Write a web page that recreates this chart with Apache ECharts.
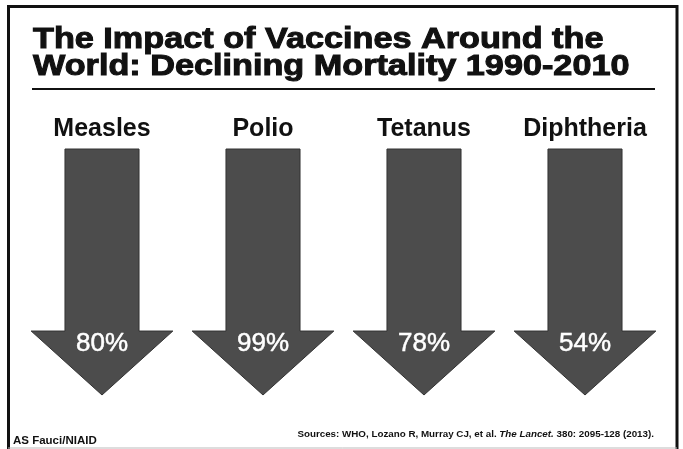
<!DOCTYPE html>
<html>
<head>
<meta charset="utf-8">
<script src="https://cdn.jsdelivr.net/npm/echarts@6/dist/echarts.min.js"></script>
<style>
  html, body { margin: 0; padding: 0; background: #fff; }
  #chart { width: 683px; height: 449px; }
</style>
</head>
<body>
<div id="chart"></div>
<script>
// Vaccine-preventable diseases and their mortality decline, 1990-2010 (%)
const categories = ['Measles', 'Polio', 'Tetanus', 'Diphtheria'];
const declines = [80, 99, 78, 54];

const titleLines = [
  'The Impact of Vaccines Around the',
  'World: Declining Mortality 1990-2010'
];

// Arrow geometry on a hidden 0..1 axis: shaft starts at 1, head begins at NECK, tip at 0
const ARROW_TOP = 1;
const NECK = 0.26;
const TIP = 0;

const INK = '#111111';
const ARROW_FILL = '#4c4c4c';
const SANS = '"Liberation Sans", Arial, Helvetica, sans-serif';

const chart = echarts.init(document.getElementById('chart'), null, { renderer: 'canvas' });

function renderArrow(params, api) {
  const idx = api.value(0);
  const x = api.coord([idx, ARROW_TOP])[0];
  const yTop = api.coord([idx, ARROW_TOP])[1];
  const yNeck = api.coord([idx, NECK])[1];
  const yTip = api.coord([idx, TIP])[1];
  const band = api.size([1, 0])[0];
  const shaftHalf = band * 0.23;
  const headHalf = band * 0.44;
  return {
    type: 'group',
    children: [
      {
        type: 'polygon',
        shape: {
          points: [
            [x - shaftHalf, yTop],
            [x + shaftHalf, yTop],
            [x + shaftHalf, yNeck],
            [x + headHalf, yNeck],
            [x, yTip],
            [x - headHalf, yNeck],
            [x - shaftHalf, yNeck]
          ]
        },
        style: { fill: ARROW_FILL, stroke: '#333', lineWidth: 1 }
      },
      {
        type: 'text',
        style: {
          text: api.value(1) + '%',
          x: x,
          y: yNeck + 13,
          fill: '#ffffff',
          stroke: '#ffffff',
          lineWidth: 0.5,
          font: 'normal 26px ' + SANS,
          align: 'center',
          verticalAlign: 'middle'
        }
      }
    ]
  };
}

// Heavy, wide title lines: bold sans stretched horizontally
function titleLine(text, capCenterY) {
  return {
    type: 'text',
    x: 33,
    y: capCenterY,
    scaleX: 1.18,
    silent: true,
    style: {
      text: text,
      x: 0,
      y: 0,
      fill: INK,
      stroke: INK,
      lineWidth: 1,
      font: 'bold 29px ' + SANS,
      align: 'left',
      verticalAlign: 'middle'
    }
  };
}

chart.setOption({
  animation: false,
  backgroundColor: '#ffffff',
  grid: { left: 21.5, right: 17.5, top: 149, bottom: 54 },
  xAxis: {
    type: 'category',
    data: categories,
    position: 'top',
    axisLine: { show: false },
    axisTick: { show: false },
    splitLine: { show: false },
    axisLabel: {
      margin: 7,
      color: INK,
      fontFamily: SANS,
      fontWeight: 'bold',
      fontSize: 25
    }
  },
  yAxis: {
    type: 'value',
    min: 0,
    max: 1,
    show: false
  },
  series: [{
    type: 'custom',
    renderItem: renderArrow,
    data: categories.map((c, i) => [i, declines[i]]),
    encode: { x: 0 },
    silent: true
  }],
  graphic: [
    titleLine(titleLines[0], 39.5),
    titleLine(titleLines[1], 67),
    // frame: black left, top and right edges, light bottom edge
    {
      type: 'polyline',
      shape: { points: [[8.5, 449], [8.5, 6.5], [677, 6.5], [677, 449]] },
      style: { fill: 'none', stroke: INK, lineWidth: 3 },
      silent: true
    },
    {
      type: 'line',
      shape: { x1: 8, y1: 448, x2: 677, y2: 448 },
      style: { stroke: '#bbbbbb', lineWidth: 1 },
      silent: true
    },
    {
      type: 'line',
      shape: { x1: 32, y1: 89, x2: 655, y2: 89 },
      style: { stroke: INK, lineWidth: 2 },
      silent: true
    },
    {
      type: 'text',
      x: 13,
      y: 447,
      silent: true,
      style: {
        text: 'AS Fauci/NIAID',
        fill: INK,
        font: 'bold 11.5px ' + SANS,
        verticalAlign: 'bottom'
      }
    },
    {
      type: 'text',
      right: 29,
      top: 429,
      silent: true,
      style: {
        text: '{n|Sources: WHO, Lozano R, Murray CJ, et al. }{i|The Lancet.}{n| 380: 2095-128 (2013).}',
        rich: {
          n: { fill: INK, font: 'bold 9.8px ' + SANS },
          i: { fill: INK, font: 'italic bold 9.8px ' + SANS }
        }
      }
    }
  ]
});
</script>
</body>
</html>
